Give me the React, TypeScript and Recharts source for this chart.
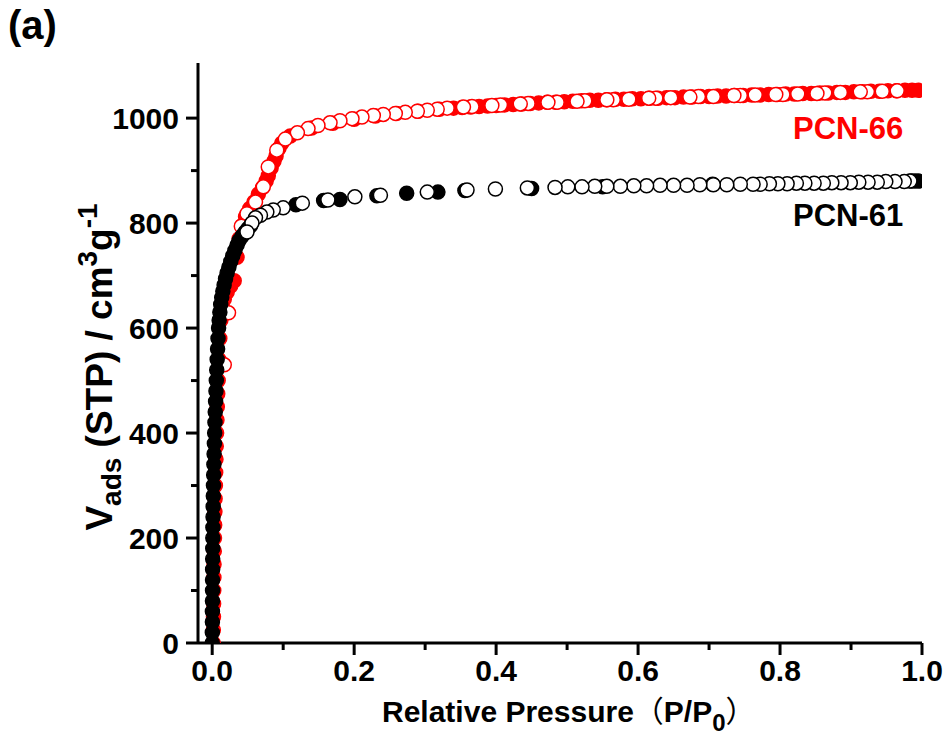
import React from 'react';
import { ScatterChart, Scatter, XAxis, YAxis } from 'recharts';

// PCN-66 adsorption (filled red)
const pcn66AdsP = [
  0.0014, 0.0016, 0.0018, 0.002, 0.0022, 0.0024, 0.0026, 0.0029, 0.0032, 0.0035,
  0.0038, 0.0041, 0.0045, 0.0049, 0.0053, 0.0057, 0.0062, 0.0067, 0.0072, 0.0078,
  0.0084, 0.0094, 0.0107, 0.0122, 0.0142, 0.017, 0.021, 0.026, 0.031, 0.035,
  0.038, 0.042, 0.047, 0.053, 0.059, 0.065, 0.071, 0.076, 0.079, 0.083,
  0.087, 0.09, 0.094, 0.098, 0.11, 0.14, 0.17, 0.2, 0.23, 0.26, 0.29, 0.32,
  0.34, 0.352, 0.364, 0.376, 0.388, 0.4, 0.412, 0.424, 0.436, 0.448,
  0.46, 0.472, 0.484, 0.496, 0.508, 0.52, 0.532, 0.544, 0.556, 0.568,
  0.58, 0.592, 0.604, 0.616, 0.628, 0.64, 0.652, 0.664, 0.676, 0.688,
  0.7, 0.712, 0.724, 0.736, 0.748, 0.76, 0.772, 0.784, 0.796, 0.808,
  0.82, 0.832, 0.844, 0.856, 0.868, 0.88, 0.892, 0.904, 0.916, 0.928,
  0.94, 0.952, 0.964, 0.976, 0.986, 0.995,
];
const pcn66AdsV = [
  0, 25, 50, 75, 100, 125, 150, 175, 200, 225,
  250, 275, 300, 325, 350, 375, 400, 425, 450, 475,
  500, 540, 580, 615, 640, 655, 668, 680, 690, 735,
  770, 795, 812, 828, 840, 855, 868, 880, 890, 905,
  918, 928, 942, 952, 966, 981, 990, 998, 1004, 1009, 1013, 1017,
  1019, 1020, 1021, 1022, 1023, 1024, 1025, 1026, 1027, 1028,
  1029, 1030, 1030, 1031, 1032, 1033, 1034, 1034, 1035, 1036,
  1036, 1037, 1037, 1038, 1038, 1039, 1039, 1040, 1040, 1041,
  1041, 1042, 1042, 1043, 1043, 1044, 1044, 1045, 1045, 1046,
  1046, 1047, 1047, 1048, 1048, 1049, 1049, 1050, 1050, 1051,
  1051, 1052, 1052, 1053, 1053, 1053,
];

// PCN-66 desorption (open red)
const pcn66DesP = [
  0.965, 0.944, 0.923, 0.913, 0.885, 0.863, 0.852, 0.825, 0.804, 0.794,
  0.765, 0.744, 0.735, 0.706, 0.685, 0.673, 0.646, 0.625, 0.615, 0.587,
  0.565, 0.556, 0.525, 0.514, 0.486, 0.473, 0.445, 0.434, 0.406, 0.394,
  0.366, 0.354, 0.331, 0.317, 0.303, 0.289, 0.272, 0.258, 0.241, 0.227,
  0.211, 0.197, 0.18, 0.166, 0.149, 0.135, 0.12, 0.103, 0.091, 0.079,
  0.072, 0.061, 0.049, 0.041, 0.023, 0.017,
];
const pcn66DesV = [
  1052, 1051, 1050, 1050, 1049, 1048, 1047, 1046, 1045, 1045,
  1044, 1043, 1043, 1041, 1041, 1040, 1039, 1038, 1038, 1036,
  1035, 1035, 1033, 1032, 1030, 1030, 1028, 1027, 1025, 1024,
  1022, 1021, 1019, 1017, 1015, 1013, 1011, 1009, 1007, 1005,
  1002, 999, 995, 991, 986, 980, 972, 960, 939, 907,
  869, 840, 818, 794, 629, 530,
];

// PCN-61 adsorption (filled black)
const pcn61AdsP = [
  0.0001, 0.0002, 0.0003, 0.0003, 0.0004, 0.0005, 0.0005, 0.0006, 0.0007, 0.0008,
  0.0009, 0.001, 0.0012, 0.0014, 0.0016, 0.0018, 0.0021, 0.0024, 0.0027, 0.0031,
  0.0035, 0.0039, 0.0043, 0.0048, 0.0053, 0.0058, 0.0064, 0.007, 0.0076, 0.0082,
  0.009, 0.0098, 0.0108, 0.012, 0.0134, 0.015, 0.0168, 0.0188, 0.021, 0.0235,
  0.0262, 0.029, 0.032, 0.035, 0.038, 0.042, 0.046, 0.05, 0.054,
  0.118, 0.157, 0.18, 0.232, 0.274, 0.318, 0.356, 0.45, 0.55, 0.705,
  0.985, 0.99, 0.995,
];
const pcn61AdsV = [
  0, 20, 40, 60, 80, 100, 120, 140, 160, 180,
  200, 220, 240, 260, 280, 300, 320, 340, 360, 380,
  400, 420, 440, 460, 480, 500, 520, 540, 560, 580,
  600, 615, 630, 645, 658, 670, 682, 694, 705, 716,
  727, 738, 748, 758, 767, 775, 782, 789, 795,
  835, 843, 845, 852, 857, 859, 862, 866, 869, 874,
  880, 880, 880,
];

// PCN-61 desorption (open black)
const pcn61DesP = [
  0.983, 0.975, 0.962, 0.949, 0.937, 0.924, 0.911, 0.899, 0.886, 0.873,
  0.861, 0.848, 0.835, 0.823, 0.81, 0.797, 0.785, 0.772, 0.762, 0.744,
  0.725, 0.706, 0.687, 0.669, 0.65, 0.631, 0.612, 0.594, 0.575, 0.556,
  0.539, 0.521, 0.501, 0.483, 0.444, 0.399, 0.359, 0.303, 0.237, 0.201,
  0.163, 0.127, 0.1, 0.086, 0.077, 0.068, 0.061, 0.056, 0.049,
];
const pcn61DesV = [
  880, 879, 879, 879, 878, 878, 878, 877, 877, 877,
  876, 876, 876, 876, 875, 875, 875, 874, 874, 874,
  873, 873, 873, 872, 872, 872, 871, 871, 870, 870,
  870, 869, 869, 868, 867, 865, 863, 859, 853, 850,
  844, 838, 829, 825, 821, 815, 810, 800, 783,
];

const xMajorTicks = [0, 0.2, 0.4, 0.6, 0.8, 1.0];
const xMinorTicks = [0.1, 0.3, 0.5, 0.7, 0.9];
const yMajorTicks = [0, 200, 400, 600, 800, 1000];
const yMinorTicks = [100, 300, 500, 700, 900];

const zip = (p: number[], v: number[]) => p.map((x, i) => ({ x, y: v[i] }));

const FONT = '"Liberation Sans", Arial, "Noto Sans CJK SC", sans-serif';
const R = 7;

const dot = (fill: string, stroke: string) => (props: any) => (
  <circle cx={props.cx} cy={props.cy} r={R} fill={fill} stroke={stroke} strokeWidth={1.5} />
);

const XTick = (props: any) => {
  const { x, y, payload } = props;
  const v = payload.value;
  const major = xMajorTicks.some((t) => Math.abs(t - v) < 1e-9);
  return (
    <g>
      <line x1={x} x2={x} y1={y} y2={y + (major ? 12 : 7)} stroke="#000" strokeWidth={3} />
      {major && (
        <text x={x} y={y + 38} textAnchor="middle" fontFamily={FONT} fontWeight="bold" fontSize={30} fill="#000">
          {v.toFixed(1)}
        </text>
      )}
    </g>
  );
};

const YTick = (props: any) => {
  const { x, y, payload } = props;
  const v = payload.value;
  const major = yMajorTicks.includes(v);
  return (
    <g>
      <line x1={x - (major ? 12 : 7)} x2={x} y1={y} y2={y} stroke="#000" strokeWidth={3} />
      {major && (
        <text x={x - 19} y={y + 11} textAnchor="end" fontFamily={FONT} fontWeight="bold" fontSize={30} fill="#000">
          {v}
        </text>
      )}
    </g>
  );
};

export default function App() {
  const xTicks = [...xMajorTicks, ...xMinorTicks].sort((a, b) => a - b);
  const yTicks = [...yMajorTicks, ...yMinorTicks].sort((a, b) => a - b);
  return (
    <div style={{ width: 952, height: 748, margin: -8 }}>
      <ScatterChart width={952} height={748} margin={{ top: 63, right: 30, bottom: 0, left: 0 }}>
        <XAxis
          type="number"
          dataKey="x"
          domain={[-0.02, 1]}
          ticks={xTicks}
          interval={0}
          tick={<XTick />}
          tickLine={false}
          tickSize={0}
          tickMargin={0}
          axisLine={{ stroke: '#000', strokeWidth: 3 }}
          height={105}
          allowDataOverflow
        />
        <YAxis
          type="number"
          dataKey="y"
          domain={[0, 1105]}
          ticks={yTicks}
          interval={0}
          tick={<YTick />}
          tickLine={false}
          tickSize={0}
          tickMargin={0}
          axisLine={{ stroke: '#000', strokeWidth: 3 }}
          width={198}
          allowDataOverflow
        />
        <Scatter data={zip(pcn66AdsP, pcn66AdsV)} shape={dot('#ff0000', '#ff0000')} isAnimationActive={false} />
        <Scatter data={zip(pcn66DesP, pcn66DesV)} shape={dot('#ffffff', '#ff0000')} isAnimationActive={false} />
        <Scatter data={zip(pcn61AdsP, pcn61AdsV)} shape={dot('#000000', '#000000')} isAnimationActive={false} />
        <Scatter data={zip(pcn61DesP, pcn61DesV)} shape={dot('#ffffff', '#000000')} isAnimationActive={false} />
        <text x={8} y={39} fontFamily={FONT} fontWeight="bold" fontSize={40} fill="#000">(a)</text>
        <text x={793} y={139} fontFamily={FONT} fontWeight="bold" fontSize={31} fill="#ff0000">PCN-66</text>
        <text x={793} y={226} fontFamily={FONT} fontWeight="bold" fontSize={31} fill="#000">PCN-61</text>
        <text x={382} y={722} fontFamily={FONT} fontWeight="bold" fontSize={30} fill="#000">
          Relative Pressure
          <tspan fontWeight="normal">（</tspan>
          <tspan>P/P</tspan>
          <tspan fontSize={24} dy={9}>0</tspan>
          <tspan fontWeight="normal" dy={-9}>）</tspan>
        </text>
        <g transform="translate(112, 367) rotate(-90)">
          <text x={0} y={0} textAnchor="middle" fontFamily={FONT} fontWeight="bold" fontSize={37} fill="#000">
            V<tspan fontSize={28} dy={9}>ads</tspan>
            <tspan dy={-9}> (STP) / cm</tspan>
            <tspan fontSize={28} dy={-15}>3</tspan>
            <tspan dy={15}>g</tspan>
            <tspan fontSize={28} dy={-15}>-1</tspan>
          </text>
        </g>
      </ScatterChart>
    </div>
  );
}
